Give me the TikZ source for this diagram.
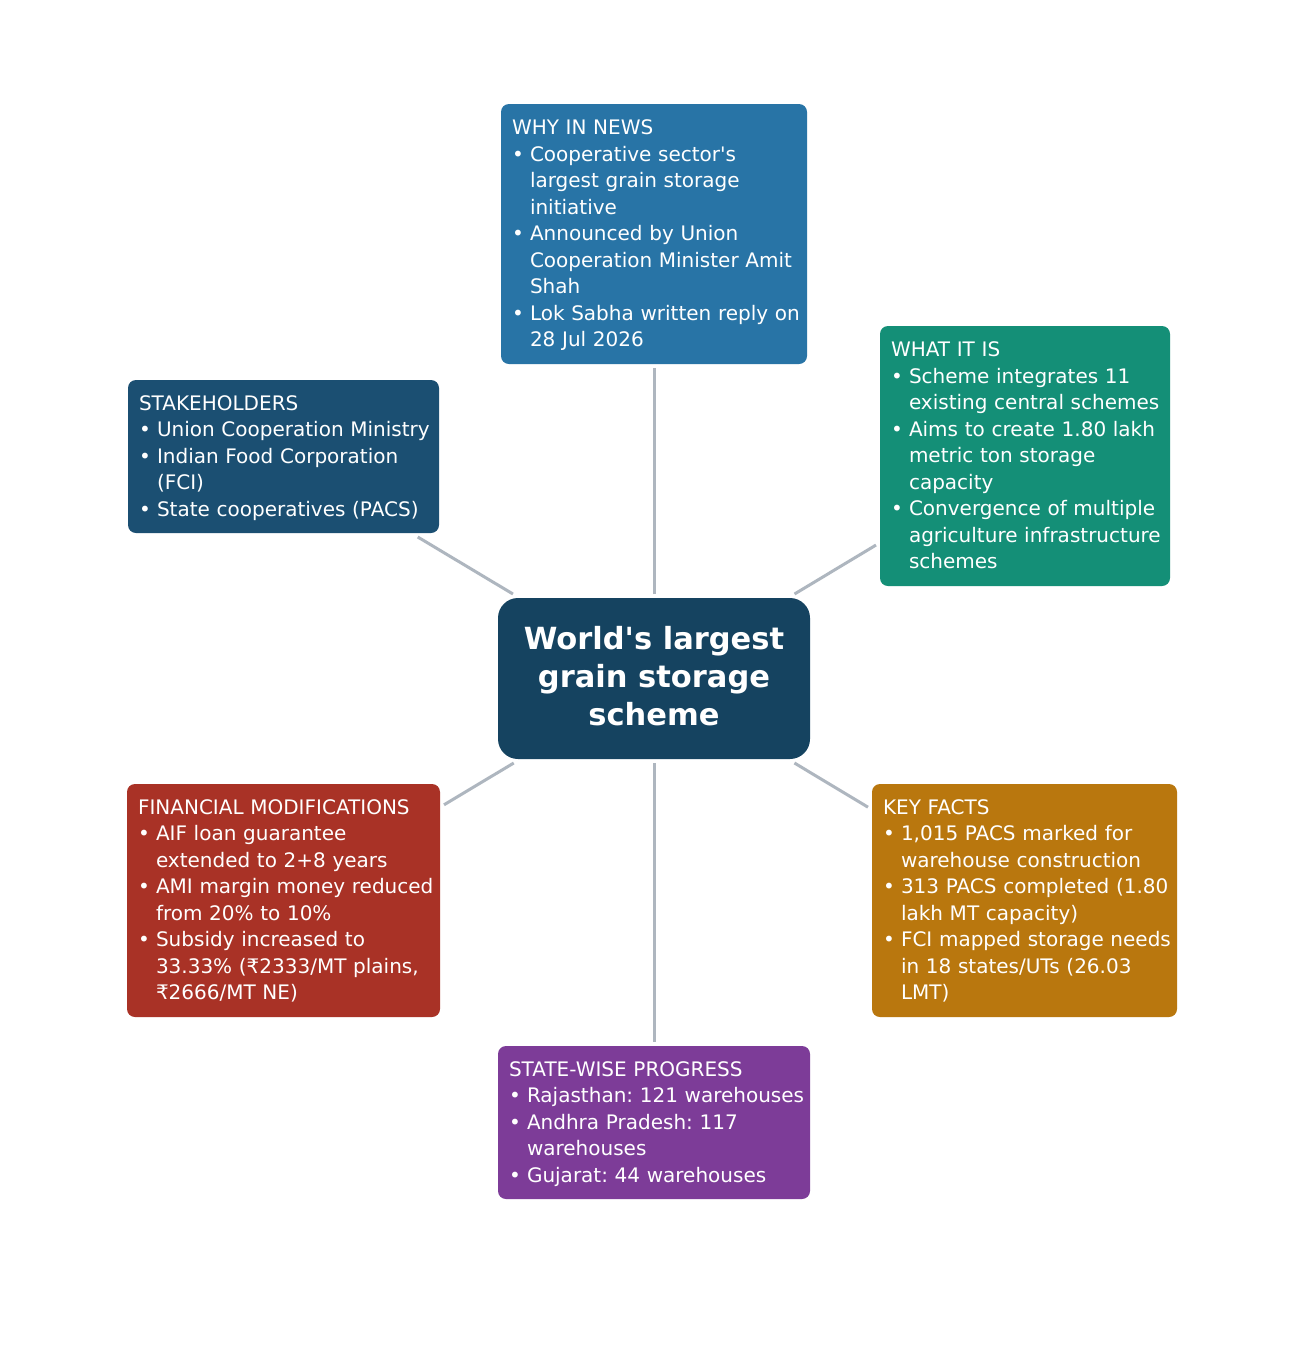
\documentclass[tikz,border=0pt]{standalone}
\usepackage{fontspec}
\setmainfont{DejaVu Sans}
\frenchspacing
\definecolor{cwhy}{HTML}{2874A6}
\definecolor{cwhat}{HTML}{148F77}
\definecolor{cstake}{HTML}{1B4F72}
\definecolor{ccenter}{HTML}{154360}
\definecolor{cfin}{HTML}{A93226}
\definecolor{ckey}{HTML}{B9770E}
\definecolor{cstate}{HTML}{7D3C98}
\definecolor{lineg}{HTML}{AEB6BF}
\newcommand\Ttl[1]{\mbox{\rule{0pt}{19pt}#1}}
\newcommand\Bl[1]{\mbox{\makebox[18pt][l]{•}#1}}
\newcommand\Cl[1]{\mbox{\hspace*{18pt}#1}}
\newcommand\Endl{\rule[-6pt]{0pt}{6pt}}
\tikzset{
  infobox/.style={rounded corners=8pt, text=white, align=left, inner xsep=11pt, inner ysep=11pt,
    outer sep=4pt, font=\fontsize{20}{26.5}\selectfont, anchor=center,
    execute at begin node=\setlength{\parindent}{0pt}},
  centerbox/.style={rounded corners=20pt, fill=ccenter, text=white, align=center, inner sep=0pt,
    outer sep=4pt, font=\bfseries\fontsize{30.5}{38}\selectfont,
    minimum width=312pt, minimum height=161pt},
  conn/.style={draw=lineg, line width=3pt}
}
\begin{document}
\begin{tikzpicture}[x=1pt,y=-1pt]
\useasboundingbox[fill=white] (0,0) rectangle (1308,1358);

\node[centerbox] (center) at (654,678.5)
  {\rule{0pt}{24pt}World\textquotesingle s largest\\grain storage\\scheme\rule[-7pt]{0pt}{7pt}};

\node[infobox, fill=cwhy, text width=284pt, minimum height=260pt] (why) at (654,234)
  {\Ttl{WHY IN NEWS}\\
   \Bl{Cooperative sector\textquotesingle s}\\
   \Cl{largest grain storage}\\
   \Cl{initiative}\\
   \Bl{Announced by Union}\\
   \Cl{Cooperation Minister Amit}\\
   \Cl{Shah}\\
   \Bl{Lok Sabha written reply on}\\
   \Cl{28 Jul 2026\Endl}};

\node[infobox, fill=cwhat, text width=268pt, minimum height=260pt] (what) at (1025,456)
  {\Ttl{WHAT IT IS}\\
   \Bl{Scheme integrates 11}\\
   \Cl{existing central schemes}\\
   \Bl{Aims to create 1.80 lakh}\\
   \Cl{metric ton storage}\\
   \Cl{capacity}\\
   \Bl{Convergence of multiple}\\
   \Cl{agriculture infrastructure}\\
   \Cl{schemes\Endl}};

\node[infobox, fill=cstake, text width=289pt, minimum height=153pt] (stake) at (283.5,456.5)
  {\Ttl{STAKEHOLDERS}\\
   \Bl{Union Cooperation Ministry}\\
   \Bl{Indian Food Corporation}\\
   \Cl{(FCI)}\\
   \Bl{State cooperatives (PACS)\Endl}};

\node[infobox, fill=cfin, text width=291pt, minimum height=233pt] (fin) at (283.5,900.5)
  {\Ttl{FINANCIAL MODIFICATIONS}\\
   \Bl{AIF loan guarantee}\\
   \Cl{extended to 2+8 years}\\
   \Bl{AMI margin money reduced}\\
   \Cl{from 20\% to 10\%}\\
   \Bl{Subsidy increased to}\\
   \Cl{33.33\% (₹2333/MT plains,}\\
   \Cl{₹2666/MT NE)\Endl}};

\node[infobox, fill=ckey, text width=283pt, minimum height=233pt] (key) at (1024.5,900.5)
  {\Ttl{KEY FACTS}\\
   \Bl{1,015 PACS marked for}\\
   \Cl{warehouse construction}\\
   \Bl{313 PACS completed (1.80}\\
   \Cl{lakh MT capacity)}\\
   \Bl{FCI mapped storage needs}\\
   \Cl{in 18 states/UTs (26.03}\\
   \Cl{LMT)\Endl}};

\node[infobox, fill=cstate, text width=290pt, minimum height=153pt] (state) at (654,1122.5)
  {\Ttl{STATE-WISE PROGRESS}\\
   \Bl{Rajasthan: 121 warehouses}\\
   \Bl{Andhra Pradesh: 117}\\
   \Cl{warehouses}\\
   \Bl{Gujarat: 44 warehouses\Endl}};

\draw[conn] (center) -- (why);
\draw[conn] (center) -- (what);
\draw[conn] (center) -- (stake);
\draw[conn] (center) -- (fin);
\draw[conn] (center) -- (key);
\draw[conn] (center) -- (state);
\end{tikzpicture}
\end{document}
